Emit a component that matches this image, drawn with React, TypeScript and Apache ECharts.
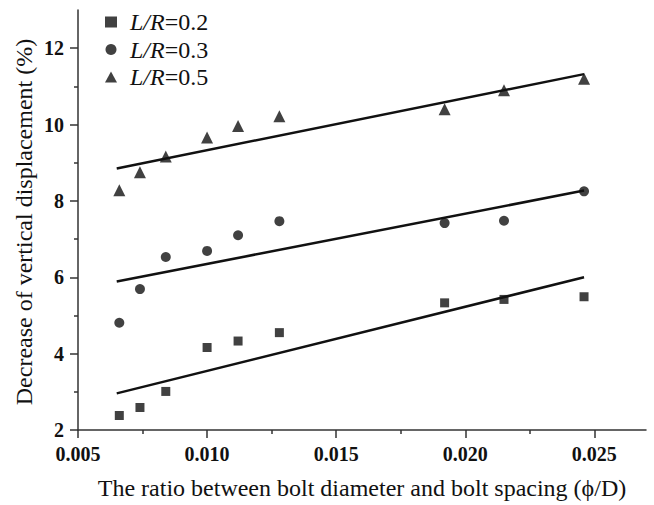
import React, { useEffect, useRef } from "react";
import * as echarts from "echarts";

const xValues = [0.0066, 0.0074, 0.0084, 0.01, 0.0112, 0.0128, 0.0192, 0.0215, 0.0246];
const lr02 = [2.38, 2.59, 3.01, 4.16, 4.33, 4.55, 5.33, 5.42, 5.49];
const lr03 = [4.81, 5.69, 6.53, 6.69, 7.1, 7.47, 7.42, 7.48, 8.25];
const lr05 = [8.28, 8.75, 9.16, 9.66, 9.96, 10.22, 10.4, 10.9, 11.2];

const fitX = [0.0065, 0.0246];
const fit02 = [2.96, 6.0];
const fit03 = [5.89, 8.27];
const fit05 = [8.85, 11.32];

const seriesNames = ["L/R=0.2", "L/R=0.3", "L/R=0.5"];
const xMajorTicks = [0.005, 0.01, 0.015, 0.02, 0.025];
const xMinorTicks = [0.0075, 0.0125, 0.0175, 0.0225];
const yMajorTicks = [2, 4, 6, 8, 10, 12];
const yMinorTicks = [3, 5, 7, 9, 11];

const FONT = "Liberation Serif";
const INK = "#111111";
const AXIS = "#333333";

function pairs(xs: number[], ys: number[]) {
  return xs.map((x, i) => [x, ys[i]]);
}

export default function App() {
  const ref = useRef<HTMLDivElement>(null);
  useEffect(() => {
    if (!ref.current) return;
    const chart = echarts.init(ref.current, undefined, { renderer: "svg" });
    const xBase = { type: "value", min: 0.005, max: 0.027, gridIndex: 0, position: "bottom" };
    const yBase = { type: "value", min: 2, max: 13, gridIndex: 0, position: "left" };
    const option: any = {
      animation: false,
      backgroundColor: "#ffffff",
      grid: { left: 78, right: 8, top: 10, bottom: 73, containLabel: false },
      legend: {
        orient: "vertical",
        left: 100,
        top: 5,
        itemWidth: 12,
        itemHeight: 11,
        itemGap: 3.5,
        data: seriesNames,
        selectedMode: false,
        formatter: (name: string) => "{i|L/R}{n|" + name.slice(3) + "}",
        textStyle: {
          fontFamily: FONT,
          fontSize: 24,
          color: INK,
          lineHeight: 22,
          padding: [0, 0, 0, 8],
          rich: {
            i: { fontFamily: FONT, fontSize: 24, fontStyle: "italic", color: INK, lineHeight: 22 },
            n: { fontFamily: FONT, fontSize: 24, color: INK, lineHeight: 22 },
          },
        },
      },
      xAxis: [
        {
          ...xBase,
          name: "The ratio between bolt diameter and bolt spacing (\u03d5/D)",
          nameLocation: "middle",
          nameGap: 46,
          nameTextStyle: { fontFamily: FONT, fontSize: 24, color: INK },
          axisLine: { show: true, lineStyle: { color: AXIS, width: 1.5 } },
          axisTick: { show: true, length: 8, customValues: xMajorTicks, lineStyle: { color: AXIS, width: 1.5 } },
          axisLabel: {
            show: true,
            customValues: xMajorTicks,
            margin: 14,
            fontFamily: FONT,
            fontSize: 20,
            fontWeight: "bold",
            color: INK,
            formatter: (v: number) => v.toFixed(3),
          },
          splitLine: { show: false },
        },
        {
          ...xBase,
          axisLine: { show: false },
          axisTick: { show: true, length: 4, customValues: xMinorTicks, lineStyle: { color: AXIS, width: 1.5 } },
          axisLabel: { show: false },
          splitLine: { show: false },
        },
      ],
      yAxis: [
        {
          ...yBase,
          axisLine: { show: true, lineStyle: { color: AXIS, width: 1.5 } },
          axisTick: { show: true, length: 8, customValues: yMajorTicks, lineStyle: { color: AXIS, width: 1.5 } },
          axisLabel: {
            show: true,
            customValues: yMajorTicks,
            margin: 14,
            fontFamily: FONT,
            fontSize: 20,
            fontWeight: "bold",
            color: INK,
            formatter: (v: number) => String(Math.round(v)),
          },
          splitLine: { show: false },
        },
        {
          ...yBase,
          axisLine: { show: false },
          axisTick: { show: true, length: 4, customValues: yMinorTicks, lineStyle: { color: AXIS, width: 1.5 } },
          axisLabel: { show: false },
          splitLine: { show: false },
        },
      ],
      graphic: [
        {
          type: "text",
          x: 24,
          y: 222,
          rotation: Math.PI / 2,
          style: {
            text: "Decrease of vertical displacement (%)",
            fontFamily: FONT,
            fontSize: 24,
            fill: INK,
            align: "center",
            verticalAlign: "middle",
          },
        },
      ],
      series: [
        {
          name: seriesNames[0],
          type: "scatter",
          symbol: "rect",
          symbolSize: 9,
          itemStyle: { color: INK },
          data: pairs(xValues, lr02),
          z: 3,
        },
        {
          name: seriesNames[1],
          type: "scatter",
          symbol: "circle",
          symbolSize: 10,
          itemStyle: { color: INK },
          data: pairs(xValues, lr03),
          z: 3,
        },
        {
          name: seriesNames[2],
          type: "scatter",
          symbol: "triangle",
          symbolSize: 12,
          itemStyle: { color: INK },
          data: pairs(xValues, lr05),
          z: 3,
        },
        ...[fit02, fit03, fit05].map((f, i) => ({
          name: "fit" + i,
          type: "line",
          data: pairs(fitX, f),
          showSymbol: false,
          symbol: "none",
          lineStyle: { color: INK, width: 2.5 },
          z: 2,
        })),
      ],
    };
    chart.setOption(option);
    return () => chart.dispose();
  }, []);
  return (
    <div
      ref={ref}
      style={{ position: "fixed", left: 0, top: 0, width: 654, height: 505, background: "#fff" }}
    />
  );
}
